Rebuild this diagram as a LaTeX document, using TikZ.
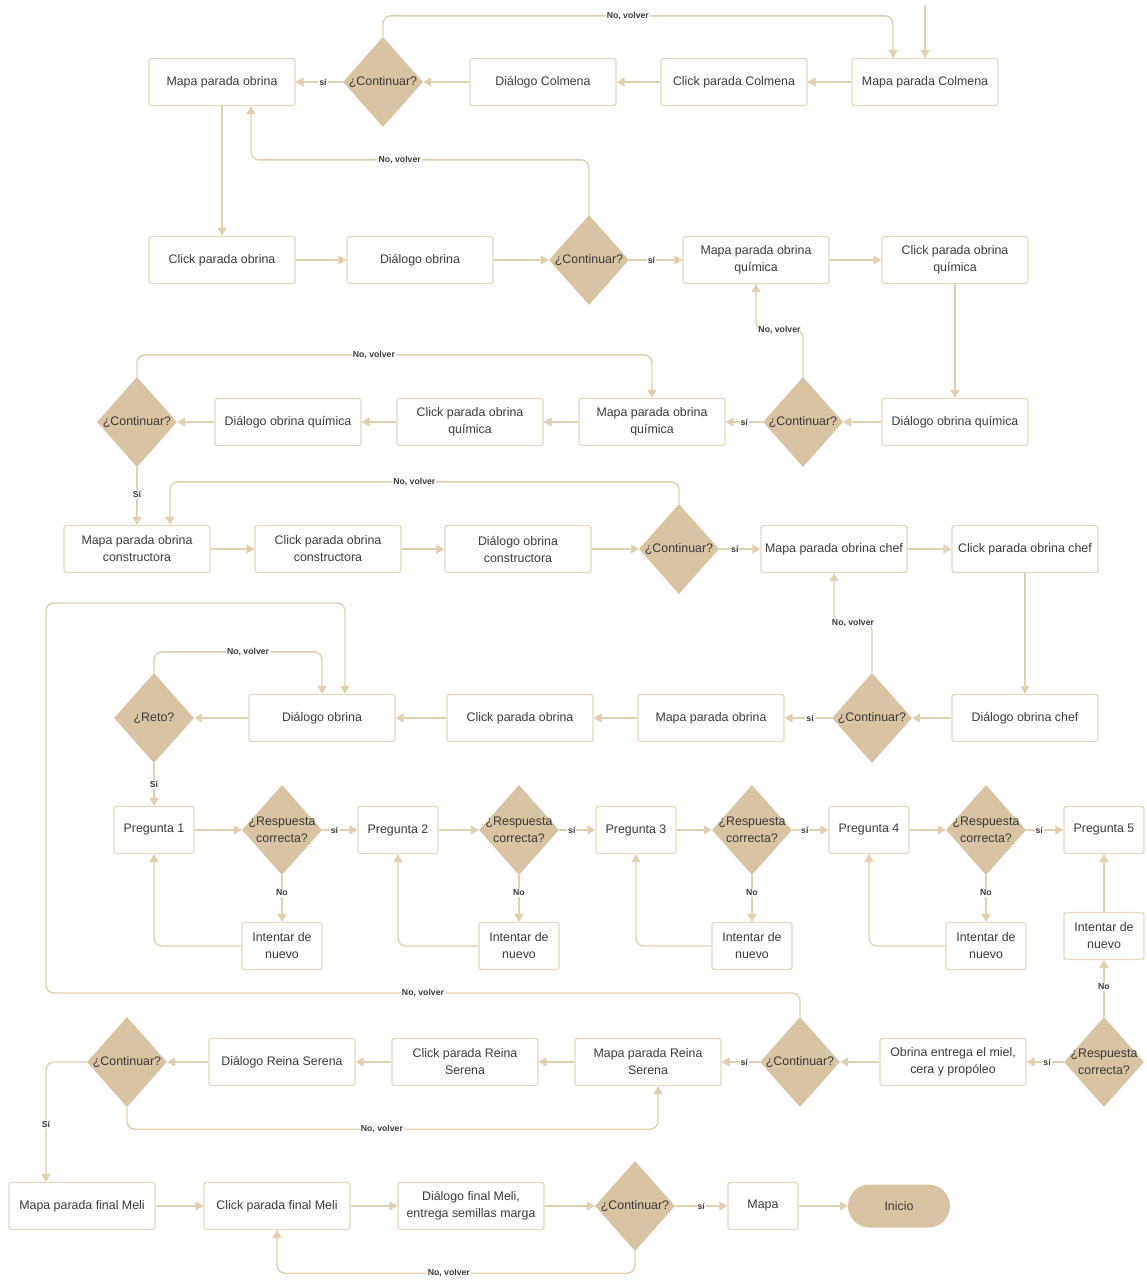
\documentclass[tikz,border=0pt]{standalone}
\usepackage{fontspec}
\setmainfont{Liberation Sans}
\usetikzlibrary{shapes.geometric,arrows.meta,calc}
\definecolor{deccol}{HTML}{D8C3A2}
\definecolor{edgecol}{HTML}{E8D8BC}
\definecolor{linecol}{HTML}{E2CFAF}
\definecolor{txtcol}{HTML}{3A3A3A}
\begin{document}
\begin{tikzpicture}[x=1pt,y=-1pt,
  box/.style={draw=edgecol, line width=1.3pt, rounded corners=2.5pt, fill=white,
    minimum width=146pt, minimum height=47pt, align=center, text=txtcol,
    font=\fontsize{12.4}{17}\selectfont, inner sep=2pt},
  sbox/.style={box, minimum width=80pt},
  dec/.style={diamond, fill=deccol, minimum width=80pt, minimum height=90pt, inner sep=0pt},
  dtext/.style={text=txtcol, align=center, font=\fontsize{12.4}{17}\selectfont},
  arr/.style={draw=linecol, line width=1.4pt, -{Triangle[length=8pt,width=9pt]}},
  loop/.style={arr, rounded corners=8pt},
  lbl/.style={fill=white, inner sep=1pt, text=txtcol, font=\bfseries\fontsize{8.7}{10}\selectfont},
]
\useasboundingbox (0,0) rectangle (1147,1280);

% ---- Colmena
\node[box] (mc) at (925,82) {Mapa parada Colmena};
\node[box] (cc) at (734,82) {Click parada Colmena};
\node[box] (dc) at (543,82) {Diálogo Colmena};
\node[dec, label={[dtext]center:¿Continuar?}] (q1) at (383,82) {};
\node[box] (mo) at (222,82) {Mapa parada obrina};
\coordinate (start) at (925,5);

% ---- obrina
\node[box] (co) at (222,260) {Click parada obrina};
\node[box] (do) at (420,260) {Diálogo obrina};
\node[dec, label={[dtext]center:¿Continuar?}] (q2) at (589,260) {};
\node[box] (mq) at (756,260) {Mapa parada obrina\\química};
\node[box] (cq) at (955,260) {Click parada obrina\\química};

% ---- obrina química
\node[box] (dq) at (955,422) {Diálogo obrina química};
\node[dec, label={[dtext]center:¿Continuar?}] (q3) at (803,422) {};
\node[box] (mq2) at (652,422) {Mapa parada obrina\\química};
\node[box] (cq2) at (470,422) {Click parada obrina\\química};
\node[box] (dq2) at (288,422) {Diálogo obrina química};
\node[dec, label={[dtext]center:¿Continuar?}] (q4) at (137,422) {};

% ---- obrina constructora
\node[box] (mc2) at (137,549) {Mapa parada obrina\\constructora};
\node[box] (cc2) at (328,549) {Click parada obrina\\constructora};
\node[box] (dc2) at (518,549) {Diálogo obrina\\constructora};
\node[dec, label={[dtext]center:¿Continuar?}] (q5) at (679,549) {};
\node[box] (mch) at (834,549) {Mapa parada obrina chef};
\node[box] (cch) at (1025,549) {Click parada obrina chef};

% ---- obrina chef
\node[box] (dch) at (1025,718) {Diálogo obrina chef};
\node[dec, label={[dtext]center:¿Continuar?}] (q6) at (872,718) {};
\node[box] (mo2) at (711,718) {Mapa parada obrina};
\node[box] (co2) at (520,718) {Click parada obrina};
\node[box] (do2) at (322,718) {Diálogo obrina};
\node[dec, label={[dtext]center:¿Reto?}] (reto) at (154,718) {};

% ---- preguntas
\node[sbox] (p1) at (154,830) {Pregunta 1};
\node[sbox] (p2) at (398,830) {Pregunta 2};
\node[sbox] (p3) at (636,830) {Pregunta 3};
\node[sbox] (p4) at (869,830) {Pregunta 4};
\node[sbox] (p5) at (1104,830) {Pregunta 5};
\node[dec, label={[dtext]center:¿Respuesta\\correcta?}] (r1) at (282,830) {};
\node[dec, label={[dtext]center:¿Respuesta\\correcta?}] (r2) at (519,830) {};
\node[dec, label={[dtext]center:¿Respuesta\\correcta?}] (r3) at (752,830) {};
\node[dec, label={[dtext]center:¿Respuesta\\correcta?}] (r4) at (986,830) {};
\node[sbox] (t1) at (282,946) {Intentar de\\nuevo};
\node[sbox] (t2) at (519,946) {Intentar de\\nuevo};
\node[sbox] (t3) at (752,946) {Intentar de\\nuevo};
\node[sbox] (t4) at (986,946) {Intentar de\\nuevo};
\node[sbox] (t5) at (1104,936) {Intentar de\\nuevo};
\node[dec, label={[dtext]center:¿Respuesta\\correcta?}] (r5) at (1104,1062) {};

% ---- Reina Serena
\node[box] (ob) at (953,1062) {Obrina entrega el miel,\\cera y propóleo};
\node[dec, label={[dtext]center:¿Continuar?}] (q7) at (800,1062) {};
\node[box] (mr) at (648,1062) {Mapa parada Reina\\Serena};
\node[box] (cr) at (465,1062) {Click parada Reina\\Serena};
\node[box] (dr) at (282,1062) {Diálogo Reina Serena};
\node[dec, label={[dtext]center:¿Continuar?}] (q8) at (127,1062) {};

% ---- final Meli
\node[box] (mf) at (82,1206) {Mapa parada final Meli};
\node[box] (cf) at (277,1206) {Click parada final Meli};
\node[box] (df) at (471,1206) {Diálogo final Meli,\\entrega semillas marga};
\node[dec, label={[dtext]center:¿Continuar?}] (q9) at (635,1206) {};
\node[box, minimum width=70pt] (mp) at (763,1206) {Mapa};
\node[fill=deccol, rounded corners=21.5pt, minimum width=102pt, minimum height=43pt,
      text=txtcol, font=\fontsize{12.4}{17}\selectfont] (ini) at (899,1206) {Inicio};

% ---- connectors: row 1
\draw[arr] (start) -- (mc);
\draw[arr] (mc) -- (cc);
\draw[arr] (cc) -- (dc);
\draw[arr] (dc) -- (q1);
\draw[arr] (q1) -- node[lbl,pos=0.42]{sí} (mo);
\draw[loop] (q1.north) -- ++(0,-21) -| node[lbl,pos=0.24]{No, volver} ([xshift=-32pt]mc.north);
\draw[arr] (mo) -- (co);

% row 2
\draw[arr] (co) -- (do);
\draw[arr] (do) -- (q2);
\draw[arr] (q2) -- node[lbl,pos=0.42]{sí} (mq);
\draw[arr] (mq) -- (cq);
\draw[loop] (q2.north) -- ++(0,-55) -| node[lbl,pos=0.28]{No, volver} ([xshift=29pt]mo.south);
\draw[arr] (cq) -- (dq);

% row 3
\draw[arr] (dq) -- (q3);
\draw[arr] (q3) -- node[lbl,pos=0.5]{sí} (mq2);
\draw[arr] (mq2) -- (cq2);
\draw[arr] (cq2) -- (dq2);
\draw[arr] (dq2) -- (q4);
\draw[loop] (q3.north) -- ++(0,-47) -| node[lbl,pos=0.25]{No, volver} (mq.south);
\draw[loop] (q4.north) -- ++(0,-22) -| node[lbl,pos=0.23]{No, volver} (mq2.north);
\draw[arr] (q4) -- node[lbl,pos=0.47]{Sí} (mc2);

% row 4
\draw[arr] (mc2) -- (cc2);
\draw[arr] (cc2) -- (dc2);
\draw[arr] (dc2) -- (q5);
\draw[arr] (q5) -- node[lbl,pos=0.38]{sí} (mch);
\draw[arr] (mch) -- (cch);
\draw[loop] (q5.north) -- ++(0,-22) -| node[lbl,pos=0.26]{No, volver} ([xshift=33pt]mc2.north);
\draw[arr] (cch) -- (dch);

% row 5
\draw[arr] (dch) -- (q6);
\draw[arr] (q6) -- node[lbl,pos=0.46]{sí} (mo2);
\draw[arr] (mo2) -- (co2);
\draw[arr] (co2) -- (do2);
\draw[arr] (do2) -- (reto);
\draw[loop] (q6.north) -- ++(0,-50) -| node[lbl,pos=0.25]{No, volver} (mch.south);
\draw[loop] (reto.north) -- ++(0,-21) -| node[lbl,pos=0.28]{No, volver} (do2.north);
\draw[arr] (reto) -- node[lbl,pos=0.5]{Sí} (p1);

% row 6: questions
\draw[arr] (p1) -- (r1);
\draw[arr] (r1) -- node[lbl,pos=0.35]{sí} (p2);
\draw[arr] (p2) -- (r2);
\draw[arr] (r2) -- node[lbl,pos=0.35]{sí} (p3);
\draw[arr] (p3) -- (r3);
\draw[arr] (r3) -- node[lbl,pos=0.35]{sí} (p4);
\draw[arr] (p4) -- (r4);
\draw[arr] (r4) -- node[lbl,pos=0.35]{sí} (p5);
\foreach \i in {1,2,3,4}{
  \draw[arr] (r\i) -- node[lbl,pos=0.38]{No} (t\i);
  \draw[loop] (t\i.west) -| (p\i.south);
}
\draw[arr] (r5) -- node[lbl,pos=0.53]{No} (t5);
\draw[arr] (t5) -- (p5);

% row 7
\draw[arr] (r5) -- node[lbl,pos=0.45]{sí} (ob);
\draw[arr] (ob) -- (q7);
\draw[arr] (q7) -- node[lbl,pos=0.41]{sí} (mr);
\draw[arr] (mr) -- (cr);
\draw[arr] (cr) -- (dr);
\draw[arr] (dr) -- (q8);
\coordinate (lp1) at (46,993);
\coordinate (lp2) at (46,603);
\draw[loop] (q7.north) |- node[lbl,pos=0.75]{No, volver} (lp1) -- (lp2) -| ([xshift=23pt]do2.north);
\draw[loop] (q8.south) -- ++(0,22) -| node[lbl,pos=0.24]{No, volver} ([xshift=10pt]mr.south);
\draw[loop] (q8.west) -| node[lbl,pos=0.76]{Sí} ([xshift=-36pt]mf.north);

% row 8
\draw[arr] (mf) -- (cf);
\draw[arr] (cf) -- (df);
\draw[arr] (df) -- (q9);
\draw[arr] (q9) -- node[lbl,pos=0.5]{sí} (mp);
\draw[arr] (mp) -- (ini);
\draw[loop] (q9.south) -- ++(0,22) -| node[lbl,pos=0.26]{No, volver} (cf.south);
\end{tikzpicture}
\end{document}
